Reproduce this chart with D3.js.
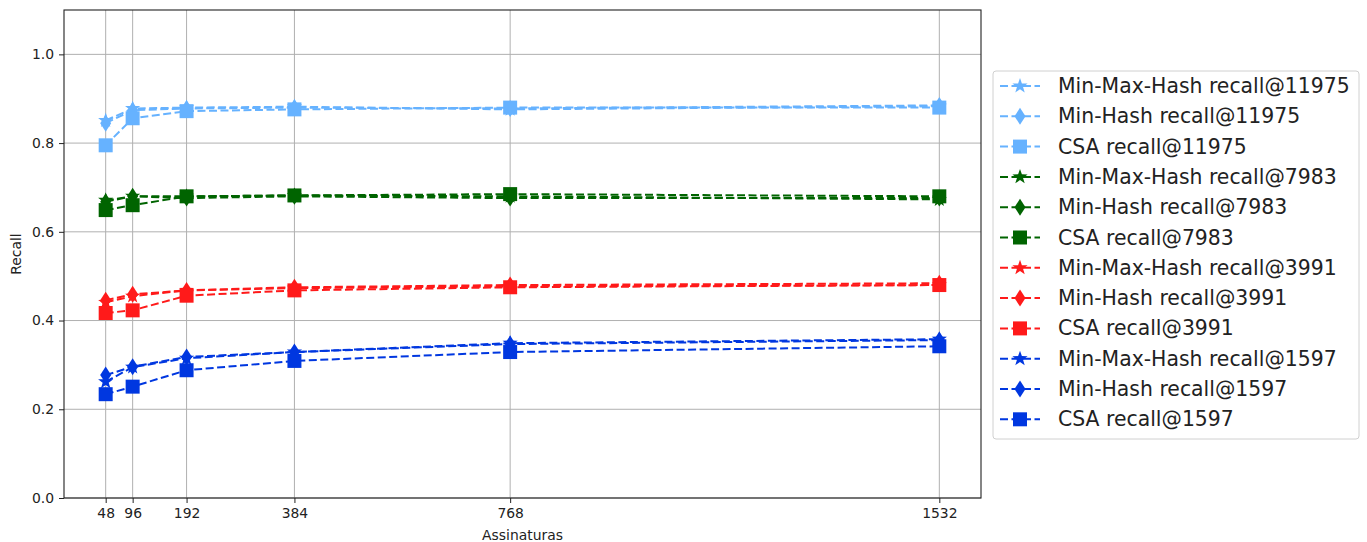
<!DOCTYPE html>
<html>
<head>
<meta charset="utf-8">
<script src="https://cdn.jsdelivr.net/npm/d3@7"></script>
<style>
  body { margin: 0; background: #fff; }
  text { font-family: "DejaVu Sans", sans-serif; fill: #222; }
</style>
</head>
<body>
<div id="chart"></div>
<script>
// assinaturas (x values)
const signatures = [48, 96, 192, 384, 768, 1532];
const yTicks = [0.0, 0.2, 0.4, 0.6, 0.8, 1.0];

// recall values
const minMax11975 = [0.851, 0.878, 0.880, 0.882, 0.876, 0.883];
const minHash11975 = [0.845, 0.874, 0.878, 0.880, 0.878, 0.885];
const csa11975 = [0.795, 0.856, 0.872, 0.876, 0.880, 0.880];

const minMax7983 = [0.671, 0.680, 0.680, 0.682, 0.680, 0.673];
const minHash7983 = [0.668, 0.680, 0.676, 0.680, 0.676, 0.676];
const csa7983 = [0.649, 0.660, 0.680, 0.682, 0.685, 0.680];

const minMax3991 = [0.441, 0.455, 0.468, 0.473, 0.477, 0.480];
const minHash3991 = [0.446, 0.459, 0.468, 0.475, 0.480, 0.484];
const csa3991 = [0.417, 0.423, 0.456, 0.468, 0.475, 0.480];

const minMax1597 = [0.262, 0.295, 0.315, 0.329, 0.349, 0.358];
const minHash1597 = [0.277, 0.296, 0.318, 0.329, 0.347, 0.356];
const csa1597 = [0.234, 0.251, 0.288, 0.309, 0.329, 0.342];

const series = [
  { label: "Min-Max-Hash recall@11975", values: minMax11975, color: "#66b2ff", marker: "star" },
  { label: "Min-Hash recall@11975", values: minHash11975, color: "#66b2ff", marker: "diamond" },
  { label: "CSA recall@11975", values: csa11975, color: "#66b2ff", marker: "square" },
  { label: "Min-Max-Hash recall@7983", values: minMax7983, color: "#006400", marker: "star" },
  { label: "Min-Hash recall@7983", values: minHash7983, color: "#006400", marker: "diamond" },
  { label: "CSA recall@7983", values: csa7983, color: "#006400", marker: "square" },
  { label: "Min-Max-Hash recall@3991", values: minMax3991, color: "#ff1a1a", marker: "star" },
  { label: "Min-Hash recall@3991", values: minHash3991, color: "#ff1a1a", marker: "diamond" },
  { label: "CSA recall@3991", values: csa3991, color: "#ff1a1a", marker: "square" },
  { label: "Min-Max-Hash recall@1597", values: minMax1597, color: "#0037e0", marker: "star" },
  { label: "Min-Hash recall@1597", values: minHash1597, color: "#0037e0", marker: "diamond" },
  { label: "CSA recall@1597", values: csa1597, color: "#0037e0", marker: "square" }
];

const width = 1367;
const height = 542;
const margin = { top: 10, right: 386, bottom: 44, left: 64 };

const svg = d3.select("#chart")
  .append("svg")
  .attr("width", width)
  .attr("height", height);

const pad = (1532 - 48) * 0.05;
const x = d3.scaleLinear()
  .domain([48 - pad, 1532 + pad])
  .range([margin.left, width - margin.right]);

const y = d3.scaleLinear()
  .domain([0, 1.1])
  .range([height - margin.bottom, margin.top]);

// grid
svg.append("g")
  .selectAll("line")
  .data(signatures)
  .enter()
  .append("line")
  .attr("x1", d => x(d)).attr("x2", d => x(d))
  .attr("y1", y(0)).attr("y2", y(1.1))
  .attr("stroke", "#b0b0b0")
  .attr("stroke-width", 1);

svg.append("g")
  .selectAll("line")
  .data(yTicks)
  .enter()
  .append("line")
  .attr("x1", x.range()[0]).attr("x2", x.range()[1])
  .attr("y1", d => y(d)).attr("y2", d => y(d))
  .attr("stroke", "#b0b0b0")
  .attr("stroke-width", 1);

// axes
const xAxis = svg.append("g")
  .attr("transform", `translate(0,${y(0)})`)
  .call(d3.axisBottom(x).tickValues(signatures).tickFormat(d3.format("d")).tickSize(5).tickPadding(5).tickSizeOuter(0));
const yAxis = svg.append("g")
  .attr("transform", `translate(${x.range()[0]},0)`)
  .call(d3.axisLeft(y).tickValues(yTicks).tickFormat(d3.format(".1f")).tickSize(5).tickPadding(5).tickSizeOuter(0));

[xAxis, yAxis].forEach(g => {
  g.select(".domain").remove();
  g.selectAll("line").attr("stroke", "#222");
  g.selectAll("text").style("font-size", "13.9px").attr("fill", "#222");
});

// frame
svg.append("rect")
  .attr("x", x.range()[0])
  .attr("y", y(1.1))
  .attr("width", x.range()[1] - x.range()[0])
  .attr("height", y(0) - y(1.1))
  .attr("fill", "none")
  .attr("stroke", "#222")
  .attr("stroke-width", 1.1);

svg.append("text")
  .attr("transform", "rotate(-90)")
  .attr("x", -(y(0) + y(1.1)) / 2)
  .attr("y", 21)
  .attr("text-anchor", "middle")
  .style("font-size", "13.9px")
  .text("Recall");

svg.append("text")
  .attr("x", (x.range()[0] + x.range()[1]) / 2)
  .attr("y", 540)
  .attr("text-anchor", "middle")
  .style("font-size", "13.9px")
  .text("Assinaturas");

// marker shapes
function markerPath(type) {
  if (type === "square") {
    const s = 7;
    return `M${-s},${-s}L${s},${-s}L${s},${s}L${-s},${s}Z`;
  }
  if (type === "diamond") {
    return "M0,-8.5L5.5,0L0,8.5L-5.5,0Z";
  }
  const pts = [];
  for (let i = 0; i < 10; i++) {
    const r = i % 2 === 0 ? 8 : 3.2;
    const a = -Math.PI / 2 + i * Math.PI / 5;
    pts.push([r * Math.cos(a), r * Math.sin(a)]);
  }
  return "M" + pts.map(p => p.join(",")).join("L") + "Z";
}

const line = d3.line()
  .x((d, i) => x(signatures[i]))
  .y(d => y(d));

const plot = svg.append("g");
series.forEach(s => {
  const g = plot.append("g");
  g.append("path")
    .datum(s.values)
    .attr("fill", "none")
    .attr("stroke", s.color)
    .attr("stroke-width", 2)
    .attr("stroke-dasharray", "8,3.5")
    .attr("d", line);
  g.selectAll("path.mark")
    .data(s.values)
    .enter()
    .append("path")
    .attr("class", "mark")
    .attr("transform", (d, i) => `translate(${x(signatures[i])},${y(d)})`)
    .attr("d", markerPath(s.marker))
    .attr("fill", s.color);
});

// legend
const legend = svg.append("g").attr("transform", "translate(993,71)");
legend.append("rect")
  .attr("x", 0).attr("y", 0)
  .attr("width", 366).attr("height", 368)
  .attr("rx", 3)
  .attr("fill", "#fff")
  .attr("stroke", "#d0d0d0");

const rowH = 30.3;
series.forEach((s, i) => {
  const cy = 15 + i * rowH;
  const row = legend.append("g").attr("transform", `translate(0,${cy})`);
  row.append("line")
    .attr("x1", 7).attr("x2", 47)
    .attr("y1", 0).attr("y2", 0)
    .attr("stroke", s.color)
    .attr("stroke-width", 2)
    .attr("stroke-dasharray", "8,3.5");
  row.append("path")
    .attr("transform", "translate(27,0)")
    .attr("d", markerPath(s.marker))
    .attr("fill", s.color);
  row.append("text")
    .attr("x", 65)
    .attr("y", 7)
    .style("font-size", "20.4px")
    .text(s.label);
});
</script>
</body>
</html>
